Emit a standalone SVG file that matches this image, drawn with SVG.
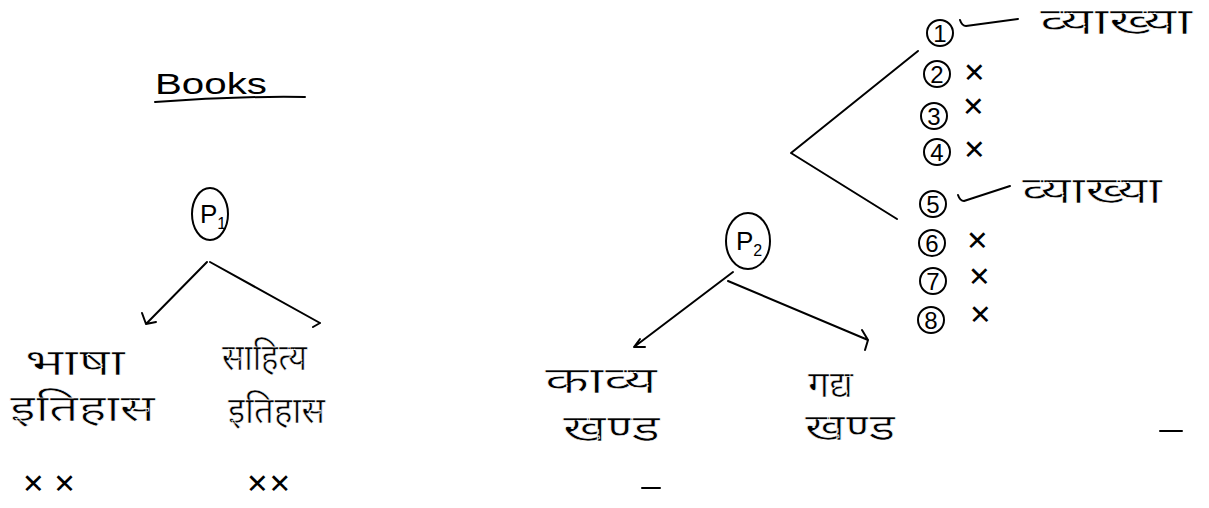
<svg xmlns="http://www.w3.org/2000/svg" width="1209" height="508" viewBox="0 0 1209 508">
<style>
.ln{fill:none;stroke:#000;stroke-width:2;stroke-linecap:round;stroke-linejoin:round}
.hi{font-family:"Noto Sans Devanagari","Noto Sans","Liberation Sans",sans-serif;font-size:36px;fill:#000;stroke:#fff;stroke-width:0.6}
.lat{font-family:"Liberation Sans",sans-serif;fill:#000}
.num{font-family:"Liberation Sans",sans-serif;font-size:24px;fill:#000;text-anchor:middle}
.x{font-family:"DejaVu Sans",sans-serif;font-size:27px;fill:#000}
</style>
<rect width="1209" height="508" fill="#fff"/>
<g id="title">
<text class="lat" x="155" y="94" font-size="30" textLength="112" lengthAdjust="spacingAndGlyphs">Books</text>
<path class="ln" d="M155,102 Q230,96 305,97"/>
</g>
<g id="p1">
<ellipse class="ln" cx="210" cy="214" rx="18" ry="26"/>
<text class="lat" x="200" y="223" font-size="26">P<tspan font-size="16" dy="6">1</tspan></text>
</g>
<g id="p2">
<ellipse class="ln" cx="748" cy="241" rx="22" ry="28"/>
<text class="lat" x="736" y="250" font-size="26">P<tspan font-size="16" dy="6">2</tspan></text>
</g>
<g id="connectors">
<path class="ln" d="M207,262 L146,324 M146,324 L142,313 M146,324 L156,322"/>
<path class="ln" d="M210,262 L320,323 M320,323 L313,327"/>
<path class="ln" d="M733,272 L634,347 M634,347 L645,347 M634,347 L640,339"/>
<path class="ln" d="M728,281 L868,340 M868,340 L865,350 M868,340 L862,330"/>
<path class="ln" d="M918,51 L791,153 L897,219"/>
<path class="ln" d="M960,20 Q962,26 966,26 L1018,19"/>
<path class="ln" d="M958,195 Q960,201 964,201 L1010,186"/>
</g>
<g id="bhasha">
<text class="hi" x="25" y="375" textLength="100" lengthAdjust="spacingAndGlyphs">भाषा</text>
<text class="hi" x="10" y="421" textLength="145" lengthAdjust="spacingAndGlyphs">इतिहास</text>
<text class="x" x="22" y="493" font-size="30">✕ ✕</text>
</g>
<g id="sahitya">
<text class="hi" x="222" y="370" textLength="85" lengthAdjust="spacingAndGlyphs">साहित्य</text>
<text class="hi" x="228" y="423" textLength="97" lengthAdjust="spacingAndGlyphs">इतिहास</text>
<text class="x" x="246" y="493" font-size="30">✕✕</text>
</g>
<g id="kavya">
<text class="hi" x="545" y="393" textLength="112" lengthAdjust="spacingAndGlyphs">काव्य</text>
<text class="hi" x="563" y="441" font-size="32" textLength="97" lengthAdjust="spacingAndGlyphs">खण्ड</text>
</g>
<g id="gadya">
<text class="hi" x="808" y="397" font-size="28" textLength="45" lengthAdjust="spacingAndGlyphs">गद्य</text>
<text class="hi" x="805" y="440" font-size="27" textLength="90" lengthAdjust="spacingAndGlyphs">खण्ड</text>
</g>
<g id="q1"><circle class="ln" cx="940" cy="33" r="13"/><text class="num" x="940" y="42">1</text><text class="hi" x="1040" y="34" textLength="152" lengthAdjust="spacingAndGlyphs">व्याख्या</text></g>
<g id="q2"><circle class="ln" cx="937" cy="74" r="13"/><text class="num" x="937" y="83">2</text><text class="x" x="963" y="82">✕</text></g>
<g id="q3"><circle class="ln" cx="934" cy="116" r="13"/><text class="num" x="934" y="125">3</text><text class="x" x="962" y="116">✕</text></g>
<g id="q4"><circle class="ln" cx="937" cy="152" r="13"/><text class="num" x="937" y="161">4</text><text class="x" x="963" y="159">✕</text></g>
<g id="q5"><circle class="ln" cx="933" cy="204" r="13"/><text class="num" x="933" y="213">5</text><text class="hi" x="1022" y="203" textLength="140" lengthAdjust="spacingAndGlyphs">व्याख्या</text></g>
<g id="q6"><circle class="ln" cx="932" cy="243" r="13"/><text class="num" x="932" y="252">6</text><text class="x" x="966" y="250">✕</text></g>
<g id="q7"><circle class="ln" cx="933" cy="281" r="13"/><text class="num" x="933" y="290">7</text><text class="x" x="968" y="286">✕</text></g>
<g id="q8"><circle class="ln" cx="931" cy="320" r="13"/><text class="num" x="931" y="329">8</text><text class="x" x="969" y="324">✕</text></g>
<g id="marks">
<path class="ln" d="M1160,431 L1182,431 M642,488 L660,488"/>
</g>
</svg>
